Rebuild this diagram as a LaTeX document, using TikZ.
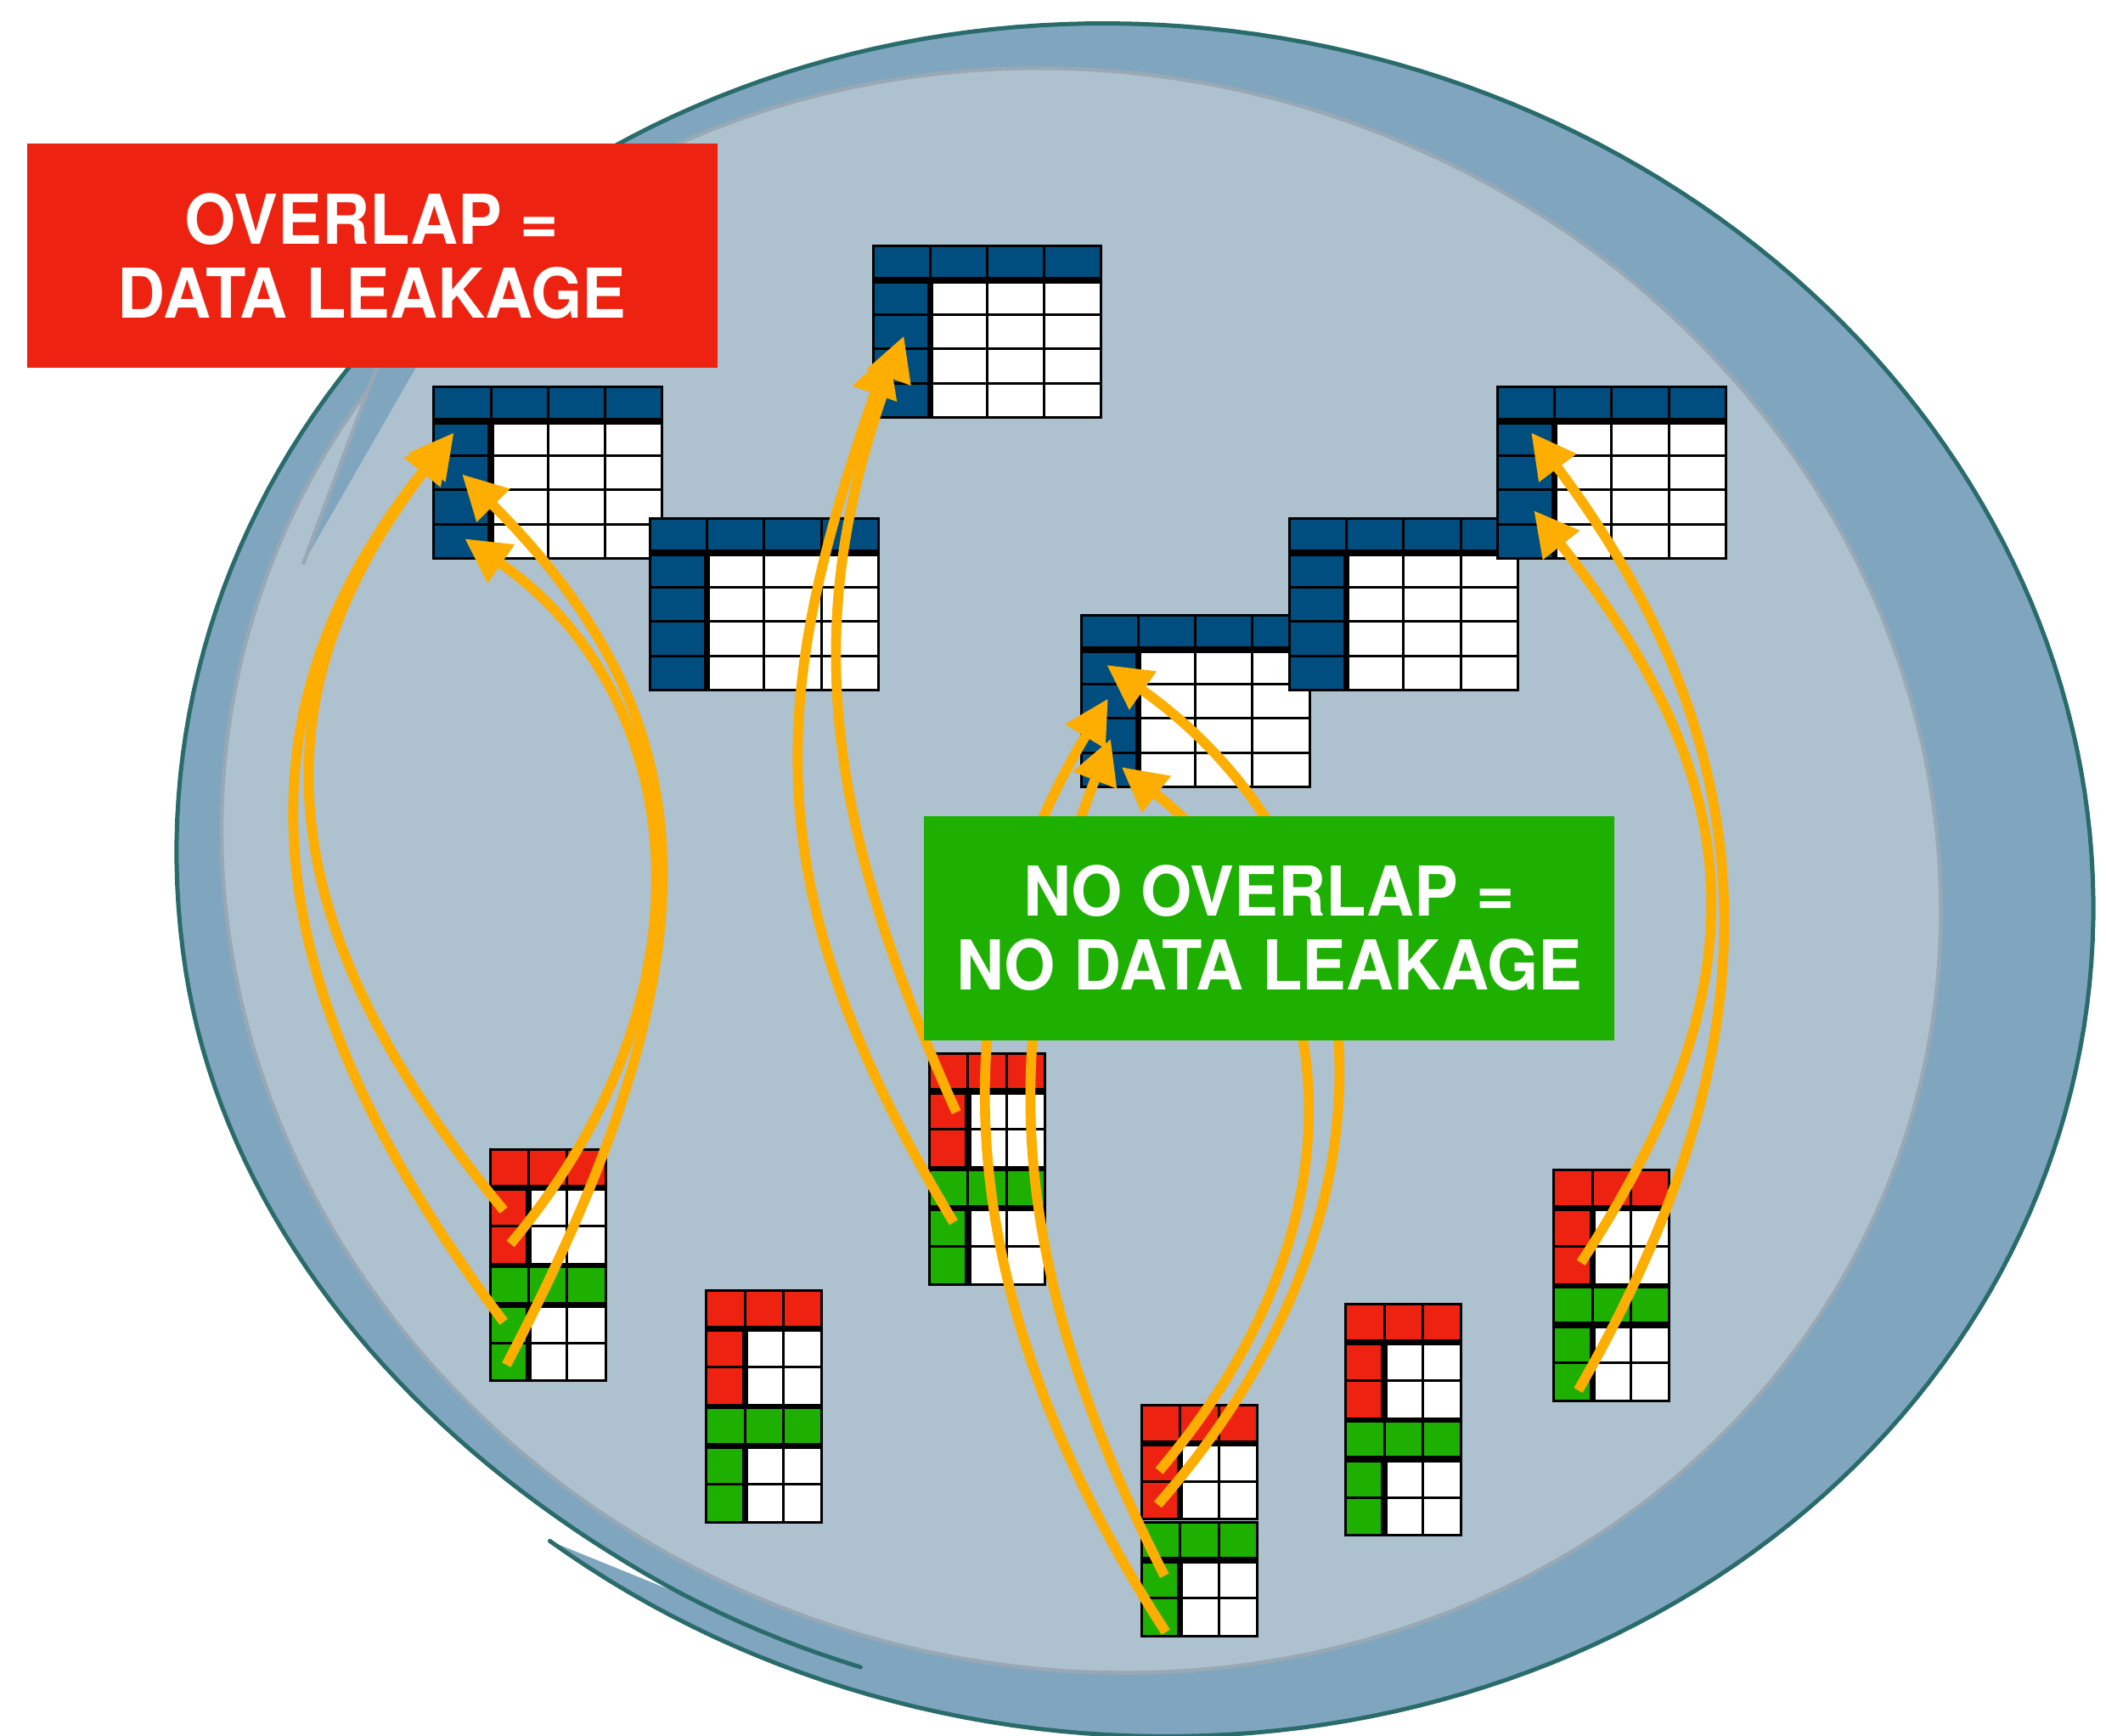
\documentclass[tikz,border=0pt]{standalone}
\usepackage{fontspec}
\usepackage{graphicx}
\setsansfont{TeX Gyre Heros}
\usetikzlibrary{arrows.meta}

\definecolor{rimfill}{RGB}{128,166,191}
\definecolor{rimline}{RGB}{42,107,107}
\definecolor{corefill}{RGB}{174,193,207}
\definecolor{coreline}{RGB}{152,168,180}
\definecolor{tabblue}{RGB}{0,78,128}
\definecolor{tabred}{RGB}{238,34,17}
\definecolor{tabgreen}{RGB}{29,176,0}
\definecolor{flowc}{RGB}{253,174,0}
\definecolor{warnred}{RGB}{238,34,16}
\definecolor{okgreen}{RGB}{29,176,0}

\begin{document}
\begin{tikzpicture}[x=0.02cm, y=-0.02cm,
  declare function={
    rimx(\u)=845+708.1*cos(\u)+88.51*sin(\u);
    rimy(\u)=655+99.5*cos(\u)-629.81*sin(\u);
    ramp(\u)=min(1,max(0,(\u-195)/50));
    shrink(\u)=1-0.028*ramp(\u)*ramp(\u)*(3-2*ramp(\u));
  },
  gridline/.style={line width=1.08pt, black},
  gridrule/.style={line width=2.67pt, black},
  flow/.style={draw=flowc, line width=4.2pt, -{Triangle[length=0.66cm, width=0.66cm]}},
  labelbox/.style={minimum width=10.28cm, minimum height=3.34cm, inner sep=0pt,
    align=center, text=white,
    font=\sffamily\bfseries\fontsize{29.1}{31.3}\selectfont},
  pics/bluetab/.style={code={
    \fill[white] (0,0) rectangle (170,128);
    \fill[tabblue] (0,0) rectangle (170,25.6);
    \fill[tabblue] (0,25.6) rectangle (42.5,128);
    \draw[gridline] (42.5,0) -- (42.5,128) (85,0) -- (85,128) (127.5,0) -- (127.5,128)
      (0,51.2) -- (170,51.2) (0,76.8) -- (170,76.8) (0,102.4) -- (170,102.4);
    \draw[gridrule] (0,25.6) -- (170,25.6) (42.5,25.6) -- (42.5,128);
    \draw[gridline] (0,0) rectangle (170,128);
  }},
  pics/smalltab/.style={code={
    \fill[white] (0,0) rectangle (86,85);
    \fill[#1] (0,0) rectangle (86,28.33);
    \fill[#1] (0,28.33) rectangle (28.67,85);
    \draw[gridline] (28.67,0) -- (28.67,85) (57.33,0) -- (57.33,85) (0,56.67) -- (86,56.67);
    \draw[gridrule] (0,28.33) -- (86,28.33) (28.67,28.33) -- (28.67,85);
    \draw[gridline] (0,0) rectangle (86,85);
  }}
]
\useasboundingbox (0,0) rectangle (1568,1292);
\fill[white] (0,0) rectangle (1568,1292);

% outer rim: an ellipse whose outline runs on past its start at the lower left,
% slightly inside itself; the fill closes with a straight edge
\fill[rimfill]
  plot[domain=-120.5:195, samples=220, variable=\u] ({rimx(\u)}, {rimy(\u)})
  -- plot[domain=195:260, samples=50, variable=\u]
    ({845+shrink(\u)*(rimx(\u)-845)}, {655+shrink(\u)*(rimy(\u)-655)})
  -- cycle;
\draw[rimline, line width=1.8pt, line cap=round, line join=round]
  plot[domain=-120.5:195, samples=220, variable=\u] ({rimx(\u)}, {rimy(\u)})
  -- plot[domain=195:260, samples=50, variable=\u]
    ({845+shrink(\u)*(rimx(\u)-845)}, {655+shrink(\u)*(rimy(\u)-655)});

% inner pool
\filldraw[fill=corefill, draw=coreline, line width=1.6pt]
  plot[domain=0:360, samples=181, variable=\t]
    ({805+613.4*cos(\t)-182.9*sin(\t)}, {648+199.3*cos(\t)+563.1*sin(\t)}) -- cycle;

% notch at the upper left of the pool
\fill[rimfill] (293,240) -- (226,419) -- (329,240) -- cycle;
\draw[coreline, line width=1.6pt, line cap=round] (293,240) -- (226,419);

% large tables
\pic (t1) at (323,288) {bluetab};
\pic (t2) at (484,386) {bluetab};
\pic (t3) at (650,183) {bluetab};
\pic (t4) at (805,458) {bluetab};
\pic (t5) at (960,386) {bluetab};
\pic (t6) at (1115,288) {bluetab};

% small table pairs
\pic (p1r) at (365,856) {smalltab=tabred};
\pic (p1g) at (365,943) {smalltab=tabgreen};
\pic (p2r) at (526,961) {smalltab=tabred};
\pic (p2g) at (526,1048) {smalltab=tabgreen};
\pic (p3r) at (692,784) {smalltab=tabred};
\pic (p3g) at (692,871) {smalltab=tabgreen};
\pic (p4r) at (850,1046) {smalltab=tabred};
\pic (p4g) at (850,1133) {smalltab=tabgreen};
\pic (p5r) at (1002,971) {smalltab=tabred};
\pic (p5g) at (1002,1058) {smalltab=tabgreen};
\pic (p6r) at (1157,871) {smalltab=tabred};
\pic (p6g) at (1157,958) {smalltab=tabgreen};

% arrow ends
\coordinate (a1s) at (375,901);  \coordinate (a1e) at (338,322);
\coordinate (a2s) at (375,984);  \coordinate (a2e) at (335,326);
\coordinate (a3s) at (380,926);  \coordinate (a3e) at (346,401);
\coordinate (a4s) at (377,1016); \coordinate (a4e) at (344,353);
\coordinate (b1s) at (710,910);  \coordinate (b1e) at (662,262);
\coordinate (b2s) at (712,828);  \coordinate (b2e) at (673,250);
\coordinate (c1s) at (862,1120); \coordinate (c1e) at (824,495);
\coordinate (c2s) at (863,1095); \coordinate (c2e) at (835,571);
\coordinate (c3s) at (868,1215); \coordinate (c3e) at (825,520);
\coordinate (c4s) at (867,1173); \coordinate (c4e) at (827,550);
\coordinate (d1s) at (1175,1035); \coordinate (d1e) at (1140,322);
\coordinate (d2s) at (1177,940);  \coordinate (d2e) at (1142,380);

% arrows
\draw[flow] (a1s) .. controls (192,680) and (192,510) .. (a1e);
\draw[flow] (a2s) .. controls (180,725) and (175,525) .. (a2e);
\draw[flow] (a3s) .. controls (540.8,734.5) and (510.4,514.8) .. (a3e);
\draw[flow] (a4s) .. controls (539.8,706.3) and (527.8,536.8) .. (a4e);
\draw[flow] (b1s) .. controls (560,661) and (572,520) .. (b1e);
\draw[flow] (b2s) .. controls (612,605) and (596,461) .. (b2e);
\draw[flow] (c1s) .. controls (1059.7,894.1) and (1028,639.5) .. (c1e);
\draw[flow] (c2s) .. controls (1031,896.4) and (992,694.8) .. (c2e);
\draw[flow] (c3s) .. controls (704.8,963.3) and (695.8,734) .. (c3e);
\draw[flow] (c4s) .. controls (739.6,923.8) and (747.6,754.7) .. (c4e);
\draw[flow] (d1s) .. controls (1325,775) and (1320,562) .. (d1e);
\draw[flow] (d2s) .. controls (1320,723) and (1297,576) .. (d2e);

% captions
\node[labelbox, fill=warnred] (leak) at (277,190.5)
  {\scalebox{0.96}[1]{OVERLAP =}\\\scalebox{0.96}[1]{DATA LEAKAGE}};
\node[labelbox, fill=okgreen] (noleak) at (945,691)
  {\scalebox{0.96}[1]{NO OVERLAP =}\\\scalebox{0.96}[1]{NO DATA LEAKAGE}};
\end{tikzpicture}
\end{document}
